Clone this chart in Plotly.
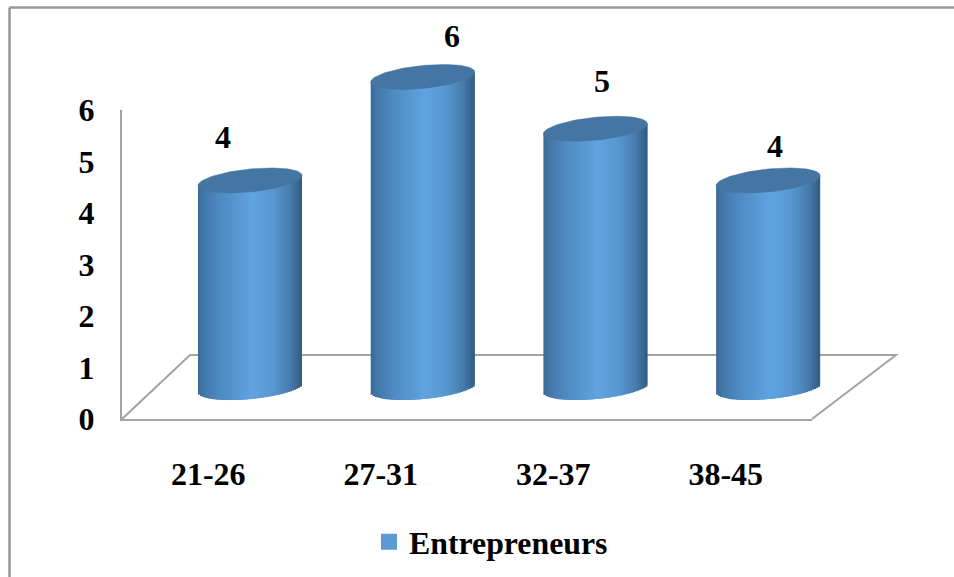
import numpy as np
import plotly.graph_objects as go

categories = ["21-26", "27-31", "32-37", "38-45"]
values = [4, 6, 5, 4]
series_name = "Entrepreneurs"
y_ticks = [0, 1, 2, 3, 4, 5, 6]

W, H = 954, 577
GREY = "#a3a3a3"
FONT = "Liberation Serif"
FS = 32

# pixel scale of the 3D (cylinder) plane
PX_X, PX_Y = 172.7, 51.75
CX0, CY0 = 250.0, 387.5
A, B, C = 52.0, 5.0, 11.5     # ellipse half-width, tilt, half-height (px)
N = 52

ramp_pos = [0.0, 0.06, 0.2, 0.52, 0.72, 0.88, 0.96, 1.0]
ramp_col = [(60, 106, 152), (68, 120, 170), (78, 137, 192), (96, 164, 226),
            (88, 152, 210), (72, 126, 176), (58, 104, 146), (50, 92, 130)]

def shade(u):
    return "rgb(%d,%d,%d)" % tuple(int(np.interp(u, ramp_pos, [c[i] for c in ramp_col])) for i in range(3))

fig = go.Figure()

# main (front) axes carry tick labels and the legend entry
fig.add_trace(go.Scatter(x=[None], y=[None], mode="markers", name=series_name, showlegend=True,
                         marker=dict(symbol="square", size=16, color="#5b9bd5"),
                         xaxis="x", yaxis="y"))

# cylinder bodies: narrow bars with a horizontal shading ramp, each overlapping the next
step = 2 * A / N
for k in range(N):
    u0 = (k + 0.5) / N
    u = 2 * u0 - 1
    left = -A + k * step
    w = min(2 * step, A - left)
    top = [v + B * u / PX_Y for v in values]
    base = (B * u - C * np.sqrt(max(0, 1 - u * u))) / PX_Y
    fig.add_trace(go.Bar(x=list(range(len(categories))), y=[t - base for t in top], base=base,
                         width=w / PX_X, offset=left / PX_X,
                         marker=dict(color=shade(u0), line=dict(width=0)),
                         showlegend=False, hoverinfo="skip", xaxis="x2", yaxis="y2"))

# elliptical tops
t = np.linspace(0, 2 * np.pi, 121)
for i, v in enumerate(values):
    fig.add_trace(go.Scatter(x=i + A * np.cos(t) / PX_X,
                             y=v + (B * np.cos(t) + C * np.sin(t)) / PX_Y,
                             mode="lines", fill="toself", fillcolor="#4576a3",
                             line=dict(width=0.5, color="#4576a3"),
                             showlegend=False, hoverinfo="skip", xaxis="x2", yaxis="y2"))

def px(x): return x / W
def py(y): return 1 - y / H

shapes = [
    dict(type="path", xref="paper", yref="paper", layer="below",
         path=f"M{px(122)},{py(419)} L{px(190)},{py(355)} L{px(896)},{py(355)} L{px(812)},{py(419)}",
         line=dict(color=GREY, width=2)),
    dict(type="line", xref="paper", yref="paper", x0=px(9.5), x1=px(9.5), y0=0, y1=py(7.5),
         line=dict(color="#999999", width=2.5)),
    dict(type="line", xref="paper", yref="paper", x0=px(9.5), x1=1, y0=py(7.5), y1=py(7.5),
         line=dict(color="#999999", width=2.5)),
]

label_offsets = [(-27, 43.5), (29, 41), (6.5, 48), (7, 34.5)]
annotations = [dict(x=i, y=v, xref="x2", yref="y2", text=str(v), showarrow=False,
                    xshift=dx, yshift=dy, font=dict(family=FONT, size=FS, color="black", weight="bold"))
               for i, (v, (dx, dy)) in enumerate(zip(values, label_offsets))]

tickfont = dict(family=FONT, size=FS, color="black", weight="bold")
fig.update_layout(
    width=W, height=H, margin=dict(l=0, r=0, t=0, b=0, autoexpand=False),
    paper_bgcolor="white", plot_bgcolor="rgba(0,0,0,0)",
    barmode="overlay", shapes=shapes, annotations=annotations,
    xaxis=dict(domain=[px(122), px(812)], range=[-0.5, 3.5], tickmode="array",
               tickvals=list(range(len(categories))), ticktext=categories, tickfont=tickfont,
               showgrid=False, zeroline=False, showline=True, linecolor=GREY, linewidth=2,
               ticks="outside", ticklen=26, tickcolor="rgba(0,0,0,0)", anchor="y"),
    yaxis=dict(domain=[py(419), py(110)], range=[0, 6], tickmode="array", tickvals=y_ticks,
               tickfont=tickfont, showgrid=False, zeroline=False, showline=True,
               linecolor=GREY, linewidth=2, ticks="outside", ticklen=19,
               tickcolor="rgba(0,0,0,0)", anchor="x"),
    xaxis2=dict(domain=[0, 1], range=[(0 - CX0) / PX_X, (W - CX0) / PX_X], visible=False, anchor="y2"),
    yaxis2=dict(domain=[0, 1], range=[(CY0 - H) / PX_Y, CY0 / PX_Y], visible=False, anchor="x2"),
    legend=dict(x=px(369), y=py(542), xanchor="left", yanchor="middle", orientation="h",
                font=dict(family=FONT, size=31.8, color="black", weight="bold"),
                bgcolor="rgba(0,0,0,0)", itemwidth=30),
    showlegend=True,
)

fig.write_html("out.html", config={"displayModeBar": False},
               post_script="document.body.style.margin='0';")
